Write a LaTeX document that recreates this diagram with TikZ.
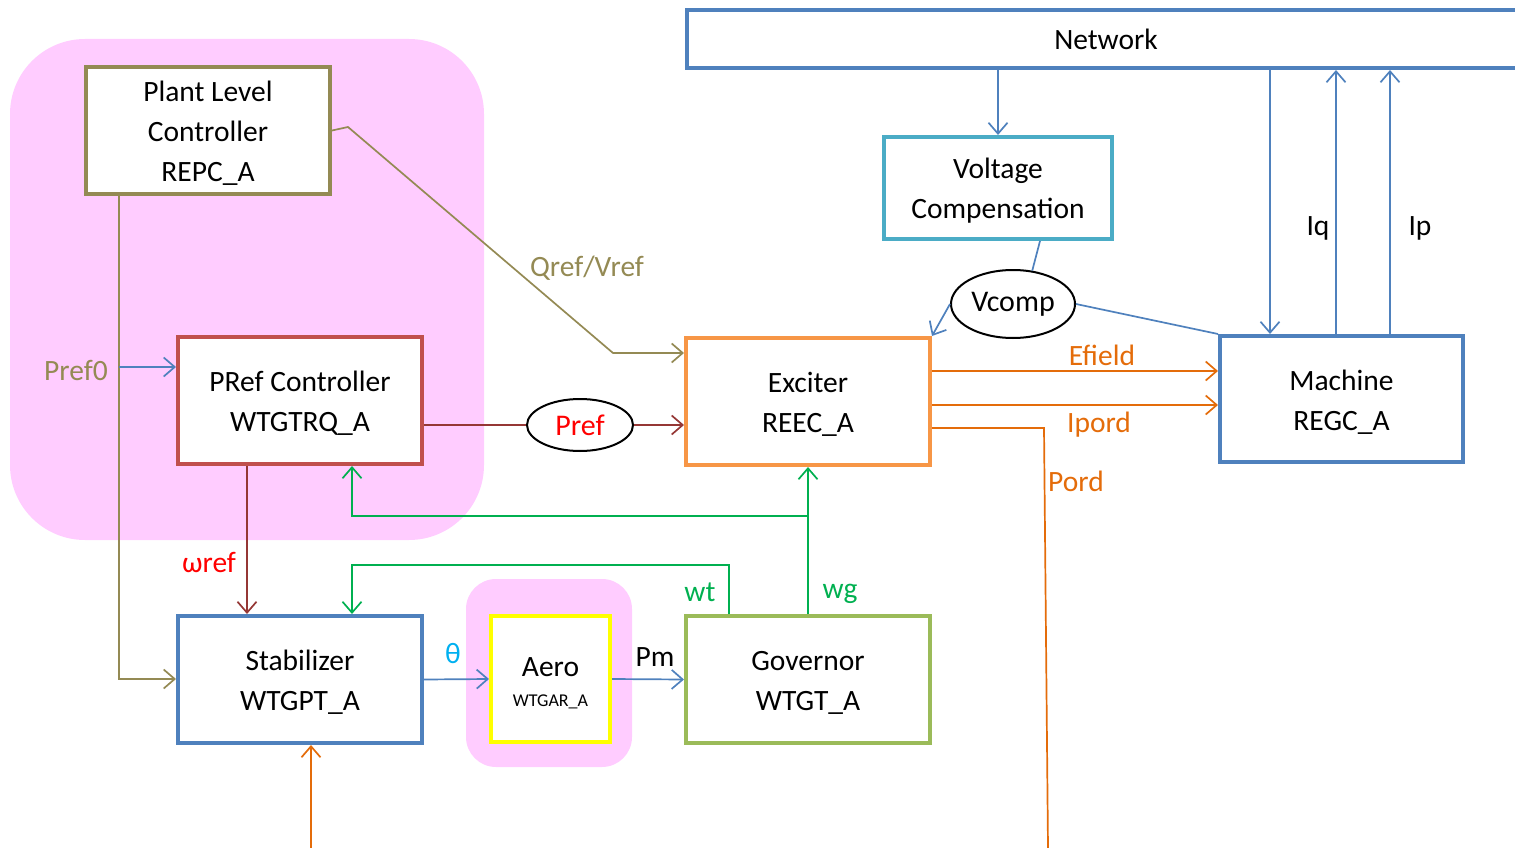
\documentclass[tikz,border=0pt]{standalone}
\usepackage{fontspec}
\setmainfont{Carlito}
\usetikzlibrary{arrows.meta,shapes.geometric,calc}

\definecolor{pinkbg}{HTML}{FFCCFF}
\definecolor{olivec}{HTML}{948A54}
\definecolor{redbox}{HTML}{C0504D}
\definecolor{maroonl}{HTML}{953735}
\definecolor{orangebox}{HTML}{F79646}
\definecolor{orangel}{HTML}{E46C0A}
\definecolor{blueb}{HTML}{4F81BD}
\definecolor{tealb}{HTML}{4BACC6}
\definecolor{greenbox}{HTML}{9BBB59}
\definecolor{greenl}{HTML}{00B050}
\definecolor{yellowb}{HTML}{FFFF00}
\definecolor{thetac}{HTML}{00B0F0}
\definecolor{redtxt}{HTML}{FF0000}

% taller first line, so that block texts sit a little lower
\newcommand{\toppad}{\rule{0pt}{26.5pt}}

\begin{document}
\begin{tikzpicture}[x=1pt,y=-1pt,
  box/.style={draw=#1, line width=4pt, fill=white, align=center, inner sep=0pt,
    font=\fontsize{29.5}{40}\selectfont},
  bigbox/.style={box=#1, minimum width=244pt, minimum height=127pt},
  lbl/.style={inner sep=0pt, font=\fontsize{29.5}{33}\selectfont},
  oval/.style={ellipse, draw=black, line width=2pt, fill=white, inner sep=0pt,
    font=\fontsize{30}{33}\selectfont},
  conn/.style={line width=1.7pt, draw=#1},
  arr/.style={conn=#1, -{Straight Barb[length=11pt,width=19pt]}}
]
\useasboundingbox (0,0) rectangle (1515,848);
\clip (0,0) rectangle (1515,848);

% shaded groups
\fill[pinkbg, rounded corners=75pt] (10,39) rectangle (484,540);
\fill[pinkbg, rounded corners=30pt] (466,579) rectangle (632,767);

% blocks
\node[bigbox=olivec] (plc) at (208,130.5) {\toppad Plant Level\\Controller\\REPC\_A};
\node[bigbox=redbox] (pref) at (300,400.5) {\toppad PRef Controller\\WTGTRQ\_A};
\node[bigbox=orangebox] (exc) at (808,401.5) {\toppad Exciter\\REEC\_A};
\node[box=blueb, minimum width=243pt, minimum height=126pt] (mach) at (1341.5,399) {\toppad Machine\\REGC\_A};
\node[box=blueb, minimum width=838pt, minimum height=58pt] (net) at (1106,39) {Network};
\node[box=tealb, minimum width=228pt, minimum height=102pt] (vc) at (998,188) {\toppad Voltage\\Compensation};
\node[bigbox=blueb] (stab) at (300,679.5) {\toppad Stabilizer\\WTGPT\_A};
\node[box=yellowb, minimum width=119pt, minimum height=126pt] (aero) at (550.5,679)
  {\toppad Aero\\[-10pt]{\fontsize{18}{22}\selectfont WTGAR\_A}};
\node[bigbox=greenbox] (gov) at (808,679.5) {\toppad Governor\\WTGT\_A};

% signal ovals
\node[oval, minimum width=124pt, minimum height=68pt] (vcomp) at (1013,304) {Vcomp};
\node[oval, minimum width=106pt, minimum height=52pt, text=redtxt] (prefo) at (580,425) {Pref};

% bend points
\coordinate (qa) at (348,127);
\coordinate (qb) at (613,353);
\coordinate (p0) at (119,679);
\coordinate (p1) at (119,367);
\coordinate (wr) at (247,540);
\coordinate (g1) at (808,516);
\coordinate (g2) at (352,516);
\coordinate (t1) at (729,565);
\coordinate (t2) at (352,565);
\coordinate (o1) at (311,848);
\coordinate (e1) at (930,371);
\coordinate (e2) at (930,405);
\coordinate (pd1) at (1044,428);
\coordinate (pd2) at (1048,848);
\coordinate (n1) at (1270,100);
\coordinate (n2) at (1336,100);
\coordinate (n3) at (1390,100);

% plant level controller outputs
\draw[arr=olivec] (plc.east) -- (qa) -- (qb) -- (qb -| exc.west);
\draw[arr=olivec] (plc.south -| p0) -- (p0) -- (p0 -| stab.west);
\draw[arr=blueb] (p1) -- (p1 -| pref.west);

% power reference path
\draw[conn=maroonl] (pref.east |- prefo) -- (prefo.west);
\draw[arr=maroonl] (prefo.east) -- (exc.west |- prefo);
\draw[arr=maroonl] (pref.south -| wr) -- (stab.north -| wr);

% speed feedback
\draw[arr=greenl] (gov.north) -- (exc.south);
\draw[arr=greenl] (g1) -- (g2) -- (g2 |- pref.south);
\draw[arr=greenl] (gov.north -| t1) -- (t1) -- (t2) -- (t2 |- stab.north);

% drive train chain
\draw[arr=blueb] (stab.east) -- (aero.west);
\draw[arr=blueb] (aero.east) -- (gov.west);
\draw[arr=orangel] (o1) -- (o1 |- stab.south);

% exciter outputs
\draw[arr=orangel] (exc.east |- e1) -- (mach.west |- e1);
\draw[arr=orangel] (exc.east |- e2) -- (mach.west |- e2);
\draw[conn=orangel] (exc.east |- pd1) -- (pd1) -- (pd2);

% network side
\draw[arr=blueb] (net.south -| vc.north) -- (vc.north);
\draw[conn=blueb] ([xshift=42pt]vc.south) -- (vcomp.60);
\draw[arr=blueb] (vcomp.west) -- (exc.north east);
\draw[conn=blueb] (vcomp.east) -- (mach.north west);
\draw[arr=blueb] (net.south -| n1) -- (mach.north -| n1);
\draw[arr=blueb] (mach.north -| n2) -- (net.south -| n2);
\draw[arr=blueb] (mach.north -| n3) -- (net.south -| n3);

% signal labels
\node[lbl, text=olivec] (lq) at (587,268) {Qref/Vref};
\node[lbl, text=olivec] (lp0) at (76,370) {Pref0};
\node[lbl, text=redtxt] (lw) at (209,562) {ωref};
\node[lbl, text=greenl] (lwt) at (700,592) {wt};
\node[lbl, text=greenl] (lwg) at (840,594) {wg};
\node[lbl, text=thetac] (lth) at (453,654) {θ};
\node[lbl] (lpm) at (655,657) {Pm};
\node[lbl, text=orangel] (lef) at (1102,355) {Efield};
\node[lbl, text=orangel] (lip) at (1099,425) {Ipord};
\node[lbl, text=orangel] (lpo) at (1076,481) {Pord};
\node[lbl] (liq) at (1318,228) {Iq};
\node[lbl] (lipp) at (1420,228) {Ip};
\end{tikzpicture}
\end{document}
